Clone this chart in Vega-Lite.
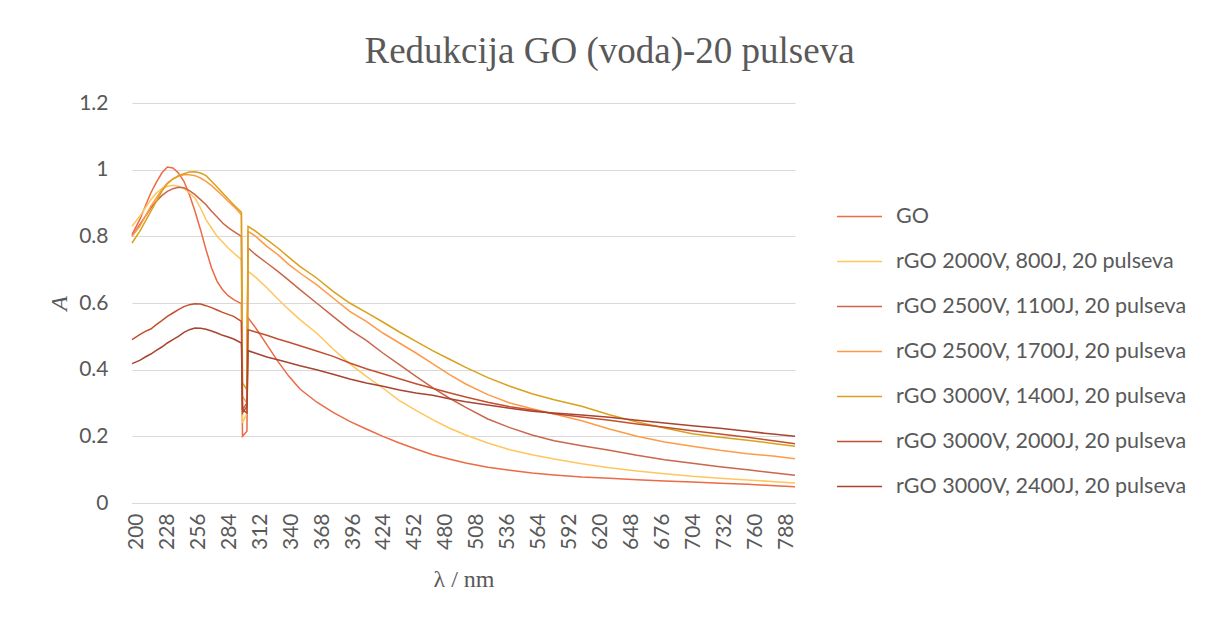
{
 "$schema": "https://vega.github.io/schema/vega-lite/v6.json",
 "width": 663, "height": 400,
 "autosize": {"type": "none"},
 "padding": {"left": 132, "top": 103, "right": 414, "bottom": 119},
 "background": "white",
 "title": {"text": "Redukcija GO (voda)-20 pulseva", "font": "Liberation Serif", "fontSize": 37, "fontWeight": "normal", "color": "#595959", "anchor": "middle", "dx": 146, "dy": 38, "offset": 30, "baseline": "alphabetic"},
 "data": {"values": [
{"s":"GO","x":196,"y":0.805},{"s":"GO","x":203,"y":0.85},{"s":"GO","x":208,"y":0.89},{"s":"GO","x":213,"y":0.93},{"s":"GO","x":218,"y":0.962},{"s":"GO","x":223,"y":0.99},{"s":"GO","x":228,"y":1.008},{"s":"GO","x":233,"y":1.005},{"s":"GO","x":238,"y":0.99},{"s":"GO","x":243,"y":0.965},{"s":"GO","x":248,"y":0.925},{"s":"GO","x":253,"y":0.875},{"s":"GO","x":258,"y":0.82},{"s":"GO","x":263,"y":0.76},{"s":"GO","x":268,"y":0.705},{"s":"GO","x":273,"y":0.665},{"s":"GO","x":278,"y":0.64},{"s":"GO","x":283,"y":0.622},{"s":"GO","x":288,"y":0.61},{"s":"GO","x":295,"y":0.598},{"s":"GO","x":296,"y":0.2},{"s":"GO","x":300,"y":0.215},{"s":"GO","x":301,"y":0.556},{"s":"GO","x":308,"y":0.525},{"s":"GO","x":318,"y":0.475},{"s":"GO","x":328,"y":0.425},{"s":"GO","x":338,"y":0.38},{"s":"GO","x":348,"y":0.342},{"s":"GO","x":363,"y":0.303},{"s":"GO","x":378,"y":0.272},{"s":"GO","x":393,"y":0.245},{"s":"GO","x":408,"y":0.222},{"s":"GO","x":423,"y":0.2},{"s":"GO","x":438,"y":0.18},{"s":"GO","x":453,"y":0.162},{"s":"GO","x":468,"y":0.145},{"s":"GO","x":483,"y":0.132},{"s":"GO","x":498,"y":0.12},{"s":"GO","x":518,"y":0.107},{"s":"GO","x":538,"y":0.098},{"s":"GO","x":558,"y":0.09},{"s":"GO","x":578,"y":0.084},{"s":"GO","x":603,"y":0.078},{"s":"GO","x":628,"y":0.074},{"s":"GO","x":653,"y":0.07},{"s":"GO","x":678,"y":0.066},{"s":"GO","x":703,"y":0.063},{"s":"GO","x":728,"y":0.059},{"s":"GO","x":753,"y":0.056},{"s":"GO","x":778,"y":0.052},{"s":"GO","x":796,"y":0.049},
{"s":"rGO 2000V, 800J, 20 pulseva","x":196,"y":0.83},{"s":"rGO 2000V, 800J, 20 pulseva","x":203,"y":0.86},{"s":"rGO 2000V, 800J, 20 pulseva","x":208,"y":0.885},{"s":"rGO 2000V, 800J, 20 pulseva","x":213,"y":0.91},{"s":"rGO 2000V, 800J, 20 pulseva","x":218,"y":0.93},{"s":"rGO 2000V, 800J, 20 pulseva","x":223,"y":0.943},{"s":"rGO 2000V, 800J, 20 pulseva","x":228,"y":0.95},{"s":"rGO 2000V, 800J, 20 pulseva","x":233,"y":0.953},{"s":"rGO 2000V, 800J, 20 pulseva","x":238,"y":0.95},{"s":"rGO 2000V, 800J, 20 pulseva","x":243,"y":0.943},{"s":"rGO 2000V, 800J, 20 pulseva","x":248,"y":0.93},{"s":"rGO 2000V, 800J, 20 pulseva","x":253,"y":0.915},{"s":"rGO 2000V, 800J, 20 pulseva","x":258,"y":0.885},{"s":"rGO 2000V, 800J, 20 pulseva","x":263,"y":0.85},{"s":"rGO 2000V, 800J, 20 pulseva","x":268,"y":0.825},{"s":"rGO 2000V, 800J, 20 pulseva","x":273,"y":0.8},{"s":"rGO 2000V, 800J, 20 pulseva","x":278,"y":0.783},{"s":"rGO 2000V, 800J, 20 pulseva","x":283,"y":0.765},{"s":"rGO 2000V, 800J, 20 pulseva","x":288,"y":0.75},{"s":"rGO 2000V, 800J, 20 pulseva","x":295,"y":0.73},{"s":"rGO 2000V, 800J, 20 pulseva","x":296,"y":0.24},{"s":"rGO 2000V, 800J, 20 pulseva","x":300,"y":0.27},{"s":"rGO 2000V, 800J, 20 pulseva","x":301,"y":0.695},{"s":"rGO 2000V, 800J, 20 pulseva","x":308,"y":0.677},{"s":"rGO 2000V, 800J, 20 pulseva","x":318,"y":0.646},{"s":"rGO 2000V, 800J, 20 pulseva","x":328,"y":0.612},{"s":"rGO 2000V, 800J, 20 pulseva","x":338,"y":0.58},{"s":"rGO 2000V, 800J, 20 pulseva","x":348,"y":0.55},{"s":"rGO 2000V, 800J, 20 pulseva","x":363,"y":0.51},{"s":"rGO 2000V, 800J, 20 pulseva","x":378,"y":0.462},{"s":"rGO 2000V, 800J, 20 pulseva","x":393,"y":0.418},{"s":"rGO 2000V, 800J, 20 pulseva","x":408,"y":0.38},{"s":"rGO 2000V, 800J, 20 pulseva","x":423,"y":0.345},{"s":"rGO 2000V, 800J, 20 pulseva","x":438,"y":0.307},{"s":"rGO 2000V, 800J, 20 pulseva","x":453,"y":0.278},{"s":"rGO 2000V, 800J, 20 pulseva","x":468,"y":0.25},{"s":"rGO 2000V, 800J, 20 pulseva","x":483,"y":0.225},{"s":"rGO 2000V, 800J, 20 pulseva","x":498,"y":0.204},{"s":"rGO 2000V, 800J, 20 pulseva","x":518,"y":0.18},{"s":"rGO 2000V, 800J, 20 pulseva","x":538,"y":0.16},{"s":"rGO 2000V, 800J, 20 pulseva","x":558,"y":0.145},{"s":"rGO 2000V, 800J, 20 pulseva","x":578,"y":0.132},{"s":"rGO 2000V, 800J, 20 pulseva","x":603,"y":0.118},{"s":"rGO 2000V, 800J, 20 pulseva","x":628,"y":0.106},{"s":"rGO 2000V, 800J, 20 pulseva","x":653,"y":0.096},{"s":"rGO 2000V, 800J, 20 pulseva","x":678,"y":0.088},{"s":"rGO 2000V, 800J, 20 pulseva","x":703,"y":0.08},{"s":"rGO 2000V, 800J, 20 pulseva","x":728,"y":0.074},{"s":"rGO 2000V, 800J, 20 pulseva","x":753,"y":0.069},{"s":"rGO 2000V, 800J, 20 pulseva","x":778,"y":0.064},{"s":"rGO 2000V, 800J, 20 pulseva","x":796,"y":0.06},
{"s":"rGO 2500V, 1100J, 20 pulseva","x":196,"y":0.8},{"s":"rGO 2500V, 1100J, 20 pulseva","x":203,"y":0.835},{"s":"rGO 2500V, 1100J, 20 pulseva","x":208,"y":0.86},{"s":"rGO 2500V, 1100J, 20 pulseva","x":213,"y":0.885},{"s":"rGO 2500V, 1100J, 20 pulseva","x":218,"y":0.905},{"s":"rGO 2500V, 1100J, 20 pulseva","x":223,"y":0.922},{"s":"rGO 2500V, 1100J, 20 pulseva","x":228,"y":0.935},{"s":"rGO 2500V, 1100J, 20 pulseva","x":233,"y":0.943},{"s":"rGO 2500V, 1100J, 20 pulseva","x":238,"y":0.947},{"s":"rGO 2500V, 1100J, 20 pulseva","x":243,"y":0.946},{"s":"rGO 2500V, 1100J, 20 pulseva","x":248,"y":0.937},{"s":"rGO 2500V, 1100J, 20 pulseva","x":253,"y":0.925},{"s":"rGO 2500V, 1100J, 20 pulseva","x":258,"y":0.91},{"s":"rGO 2500V, 1100J, 20 pulseva","x":263,"y":0.895},{"s":"rGO 2500V, 1100J, 20 pulseva","x":268,"y":0.875},{"s":"rGO 2500V, 1100J, 20 pulseva","x":273,"y":0.858},{"s":"rGO 2500V, 1100J, 20 pulseva","x":278,"y":0.84},{"s":"rGO 2500V, 1100J, 20 pulseva","x":283,"y":0.826},{"s":"rGO 2500V, 1100J, 20 pulseva","x":288,"y":0.815},{"s":"rGO 2500V, 1100J, 20 pulseva","x":295,"y":0.8},{"s":"rGO 2500V, 1100J, 20 pulseva","x":296,"y":0.28},{"s":"rGO 2500V, 1100J, 20 pulseva","x":300,"y":0.3},{"s":"rGO 2500V, 1100J, 20 pulseva","x":301,"y":0.765},{"s":"rGO 2500V, 1100J, 20 pulseva","x":308,"y":0.745},{"s":"rGO 2500V, 1100J, 20 pulseva","x":318,"y":0.72},{"s":"rGO 2500V, 1100J, 20 pulseva","x":328,"y":0.695},{"s":"rGO 2500V, 1100J, 20 pulseva","x":338,"y":0.668},{"s":"rGO 2500V, 1100J, 20 pulseva","x":348,"y":0.64},{"s":"rGO 2500V, 1100J, 20 pulseva","x":363,"y":0.6},{"s":"rGO 2500V, 1100J, 20 pulseva","x":378,"y":0.56},{"s":"rGO 2500V, 1100J, 20 pulseva","x":393,"y":0.52},{"s":"rGO 2500V, 1100J, 20 pulseva","x":408,"y":0.488},{"s":"rGO 2500V, 1100J, 20 pulseva","x":423,"y":0.45},{"s":"rGO 2500V, 1100J, 20 pulseva","x":438,"y":0.415},{"s":"rGO 2500V, 1100J, 20 pulseva","x":453,"y":0.38},{"s":"rGO 2500V, 1100J, 20 pulseva","x":468,"y":0.346},{"s":"rGO 2500V, 1100J, 20 pulseva","x":483,"y":0.315},{"s":"rGO 2500V, 1100J, 20 pulseva","x":498,"y":0.287},{"s":"rGO 2500V, 1100J, 20 pulseva","x":518,"y":0.252},{"s":"rGO 2500V, 1100J, 20 pulseva","x":538,"y":0.226},{"s":"rGO 2500V, 1100J, 20 pulseva","x":558,"y":0.204},{"s":"rGO 2500V, 1100J, 20 pulseva","x":578,"y":0.187},{"s":"rGO 2500V, 1100J, 20 pulseva","x":603,"y":0.172},{"s":"rGO 2500V, 1100J, 20 pulseva","x":628,"y":0.158},{"s":"rGO 2500V, 1100J, 20 pulseva","x":653,"y":0.143},{"s":"rGO 2500V, 1100J, 20 pulseva","x":678,"y":0.13},{"s":"rGO 2500V, 1100J, 20 pulseva","x":703,"y":0.119},{"s":"rGO 2500V, 1100J, 20 pulseva","x":728,"y":0.109},{"s":"rGO 2500V, 1100J, 20 pulseva","x":753,"y":0.1},{"s":"rGO 2500V, 1100J, 20 pulseva","x":778,"y":0.09},{"s":"rGO 2500V, 1100J, 20 pulseva","x":796,"y":0.083},
{"s":"rGO 2500V, 1700J, 20 pulseva","x":196,"y":0.8},{"s":"rGO 2500V, 1700J, 20 pulseva","x":203,"y":0.83},{"s":"rGO 2500V, 1700J, 20 pulseva","x":208,"y":0.86},{"s":"rGO 2500V, 1700J, 20 pulseva","x":213,"y":0.89},{"s":"rGO 2500V, 1700J, 20 pulseva","x":218,"y":0.915},{"s":"rGO 2500V, 1700J, 20 pulseva","x":223,"y":0.94},{"s":"rGO 2500V, 1700J, 20 pulseva","x":228,"y":0.96},{"s":"rGO 2500V, 1700J, 20 pulseva","x":233,"y":0.972},{"s":"rGO 2500V, 1700J, 20 pulseva","x":238,"y":0.98},{"s":"rGO 2500V, 1700J, 20 pulseva","x":243,"y":0.985},{"s":"rGO 2500V, 1700J, 20 pulseva","x":248,"y":0.985},{"s":"rGO 2500V, 1700J, 20 pulseva","x":253,"y":0.982},{"s":"rGO 2500V, 1700J, 20 pulseva","x":258,"y":0.975},{"s":"rGO 2500V, 1700J, 20 pulseva","x":263,"y":0.965},{"s":"rGO 2500V, 1700J, 20 pulseva","x":268,"y":0.952},{"s":"rGO 2500V, 1700J, 20 pulseva","x":273,"y":0.937},{"s":"rGO 2500V, 1700J, 20 pulseva","x":278,"y":0.922},{"s":"rGO 2500V, 1700J, 20 pulseva","x":283,"y":0.905},{"s":"rGO 2500V, 1700J, 20 pulseva","x":288,"y":0.89},{"s":"rGO 2500V, 1700J, 20 pulseva","x":295,"y":0.865},{"s":"rGO 2500V, 1700J, 20 pulseva","x":296,"y":0.32},{"s":"rGO 2500V, 1700J, 20 pulseva","x":300,"y":0.3},{"s":"rGO 2500V, 1700J, 20 pulseva","x":301,"y":0.815},{"s":"rGO 2500V, 1700J, 20 pulseva","x":308,"y":0.8},{"s":"rGO 2500V, 1700J, 20 pulseva","x":318,"y":0.77},{"s":"rGO 2500V, 1700J, 20 pulseva","x":328,"y":0.745},{"s":"rGO 2500V, 1700J, 20 pulseva","x":338,"y":0.715},{"s":"rGO 2500V, 1700J, 20 pulseva","x":348,"y":0.69},{"s":"rGO 2500V, 1700J, 20 pulseva","x":363,"y":0.655},{"s":"rGO 2500V, 1700J, 20 pulseva","x":378,"y":0.615},{"s":"rGO 2500V, 1700J, 20 pulseva","x":393,"y":0.575},{"s":"rGO 2500V, 1700J, 20 pulseva","x":408,"y":0.545},{"s":"rGO 2500V, 1700J, 20 pulseva","x":423,"y":0.51},{"s":"rGO 2500V, 1700J, 20 pulseva","x":438,"y":0.48},{"s":"rGO 2500V, 1700J, 20 pulseva","x":453,"y":0.45},{"s":"rGO 2500V, 1700J, 20 pulseva","x":468,"y":0.418},{"s":"rGO 2500V, 1700J, 20 pulseva","x":483,"y":0.386},{"s":"rGO 2500V, 1700J, 20 pulseva","x":498,"y":0.357},{"s":"rGO 2500V, 1700J, 20 pulseva","x":518,"y":0.325},{"s":"rGO 2500V, 1700J, 20 pulseva","x":538,"y":0.3},{"s":"rGO 2500V, 1700J, 20 pulseva","x":558,"y":0.283},{"s":"rGO 2500V, 1700J, 20 pulseva","x":578,"y":0.267},{"s":"rGO 2500V, 1700J, 20 pulseva","x":603,"y":0.247},{"s":"rGO 2500V, 1700J, 20 pulseva","x":628,"y":0.222},{"s":"rGO 2500V, 1700J, 20 pulseva","x":653,"y":0.2},{"s":"rGO 2500V, 1700J, 20 pulseva","x":678,"y":0.183},{"s":"rGO 2500V, 1700J, 20 pulseva","x":703,"y":0.17},{"s":"rGO 2500V, 1700J, 20 pulseva","x":728,"y":0.158},{"s":"rGO 2500V, 1700J, 20 pulseva","x":753,"y":0.148},{"s":"rGO 2500V, 1700J, 20 pulseva","x":778,"y":0.14},{"s":"rGO 2500V, 1700J, 20 pulseva","x":796,"y":0.133},
{"s":"rGO 3000V, 1400J, 20 pulseva","x":196,"y":0.78},{"s":"rGO 3000V, 1400J, 20 pulseva","x":203,"y":0.815},{"s":"rGO 3000V, 1400J, 20 pulseva","x":208,"y":0.845},{"s":"rGO 3000V, 1400J, 20 pulseva","x":213,"y":0.875},{"s":"rGO 3000V, 1400J, 20 pulseva","x":218,"y":0.905},{"s":"rGO 3000V, 1400J, 20 pulseva","x":223,"y":0.935},{"s":"rGO 3000V, 1400J, 20 pulseva","x":228,"y":0.958},{"s":"rGO 3000V, 1400J, 20 pulseva","x":233,"y":0.972},{"s":"rGO 3000V, 1400J, 20 pulseva","x":238,"y":0.982},{"s":"rGO 3000V, 1400J, 20 pulseva","x":243,"y":0.988},{"s":"rGO 3000V, 1400J, 20 pulseva","x":248,"y":0.993},{"s":"rGO 3000V, 1400J, 20 pulseva","x":253,"y":0.994},{"s":"rGO 3000V, 1400J, 20 pulseva","x":258,"y":0.99},{"s":"rGO 3000V, 1400J, 20 pulseva","x":263,"y":0.982},{"s":"rGO 3000V, 1400J, 20 pulseva","x":268,"y":0.965},{"s":"rGO 3000V, 1400J, 20 pulseva","x":273,"y":0.948},{"s":"rGO 3000V, 1400J, 20 pulseva","x":278,"y":0.93},{"s":"rGO 3000V, 1400J, 20 pulseva","x":283,"y":0.912},{"s":"rGO 3000V, 1400J, 20 pulseva","x":288,"y":0.895},{"s":"rGO 3000V, 1400J, 20 pulseva","x":295,"y":0.872},{"s":"rGO 3000V, 1400J, 20 pulseva","x":296,"y":0.36},{"s":"rGO 3000V, 1400J, 20 pulseva","x":300,"y":0.34},{"s":"rGO 3000V, 1400J, 20 pulseva","x":301,"y":0.83},{"s":"rGO 3000V, 1400J, 20 pulseva","x":308,"y":0.815},{"s":"rGO 3000V, 1400J, 20 pulseva","x":318,"y":0.79},{"s":"rGO 3000V, 1400J, 20 pulseva","x":328,"y":0.765},{"s":"rGO 3000V, 1400J, 20 pulseva","x":338,"y":0.737},{"s":"rGO 3000V, 1400J, 20 pulseva","x":348,"y":0.71},{"s":"rGO 3000V, 1400J, 20 pulseva","x":363,"y":0.675},{"s":"rGO 3000V, 1400J, 20 pulseva","x":378,"y":0.635},{"s":"rGO 3000V, 1400J, 20 pulseva","x":393,"y":0.6},{"s":"rGO 3000V, 1400J, 20 pulseva","x":408,"y":0.572},{"s":"rGO 3000V, 1400J, 20 pulseva","x":423,"y":0.543},{"s":"rGO 3000V, 1400J, 20 pulseva","x":438,"y":0.513},{"s":"rGO 3000V, 1400J, 20 pulseva","x":453,"y":0.485},{"s":"rGO 3000V, 1400J, 20 pulseva","x":468,"y":0.457},{"s":"rGO 3000V, 1400J, 20 pulseva","x":483,"y":0.432},{"s":"rGO 3000V, 1400J, 20 pulseva","x":498,"y":0.407},{"s":"rGO 3000V, 1400J, 20 pulseva","x":518,"y":0.376},{"s":"rGO 3000V, 1400J, 20 pulseva","x":538,"y":0.35},{"s":"rGO 3000V, 1400J, 20 pulseva","x":558,"y":0.328},{"s":"rGO 3000V, 1400J, 20 pulseva","x":578,"y":0.31},{"s":"rGO 3000V, 1400J, 20 pulseva","x":603,"y":0.29},{"s":"rGO 3000V, 1400J, 20 pulseva","x":628,"y":0.265},{"s":"rGO 3000V, 1400J, 20 pulseva","x":653,"y":0.243},{"s":"rGO 3000V, 1400J, 20 pulseva","x":678,"y":0.225},{"s":"rGO 3000V, 1400J, 20 pulseva","x":703,"y":0.208},{"s":"rGO 3000V, 1400J, 20 pulseva","x":728,"y":0.197},{"s":"rGO 3000V, 1400J, 20 pulseva","x":753,"y":0.188},{"s":"rGO 3000V, 1400J, 20 pulseva","x":778,"y":0.178},{"s":"rGO 3000V, 1400J, 20 pulseva","x":796,"y":0.17},
{"s":"rGO 3000V, 2000J, 20 pulseva","x":196,"y":0.49},{"s":"rGO 3000V, 2000J, 20 pulseva","x":203,"y":0.505},{"s":"rGO 3000V, 2000J, 20 pulseva","x":208,"y":0.515},{"s":"rGO 3000V, 2000J, 20 pulseva","x":213,"y":0.522},{"s":"rGO 3000V, 2000J, 20 pulseva","x":218,"y":0.535},{"s":"rGO 3000V, 2000J, 20 pulseva","x":223,"y":0.547},{"s":"rGO 3000V, 2000J, 20 pulseva","x":228,"y":0.56},{"s":"rGO 3000V, 2000J, 20 pulseva","x":233,"y":0.57},{"s":"rGO 3000V, 2000J, 20 pulseva","x":238,"y":0.58},{"s":"rGO 3000V, 2000J, 20 pulseva","x":243,"y":0.589},{"s":"rGO 3000V, 2000J, 20 pulseva","x":248,"y":0.595},{"s":"rGO 3000V, 2000J, 20 pulseva","x":253,"y":0.598},{"s":"rGO 3000V, 2000J, 20 pulseva","x":258,"y":0.597},{"s":"rGO 3000V, 2000J, 20 pulseva","x":263,"y":0.592},{"s":"rGO 3000V, 2000J, 20 pulseva","x":268,"y":0.586},{"s":"rGO 3000V, 2000J, 20 pulseva","x":273,"y":0.579},{"s":"rGO 3000V, 2000J, 20 pulseva","x":278,"y":0.572},{"s":"rGO 3000V, 2000J, 20 pulseva","x":283,"y":0.566},{"s":"rGO 3000V, 2000J, 20 pulseva","x":288,"y":0.56},{"s":"rGO 3000V, 2000J, 20 pulseva","x":295,"y":0.545},{"s":"rGO 3000V, 2000J, 20 pulseva","x":296,"y":0.27},{"s":"rGO 3000V, 2000J, 20 pulseva","x":300,"y":0.29},{"s":"rGO 3000V, 2000J, 20 pulseva","x":301,"y":0.52},{"s":"rGO 3000V, 2000J, 20 pulseva","x":308,"y":0.513},{"s":"rGO 3000V, 2000J, 20 pulseva","x":318,"y":0.503},{"s":"rGO 3000V, 2000J, 20 pulseva","x":328,"y":0.492},{"s":"rGO 3000V, 2000J, 20 pulseva","x":338,"y":0.482},{"s":"rGO 3000V, 2000J, 20 pulseva","x":348,"y":0.472},{"s":"rGO 3000V, 2000J, 20 pulseva","x":363,"y":0.456},{"s":"rGO 3000V, 2000J, 20 pulseva","x":378,"y":0.44},{"s":"rGO 3000V, 2000J, 20 pulseva","x":393,"y":0.42},{"s":"rGO 3000V, 2000J, 20 pulseva","x":408,"y":0.403},{"s":"rGO 3000V, 2000J, 20 pulseva","x":423,"y":0.388},{"s":"rGO 3000V, 2000J, 20 pulseva","x":438,"y":0.373},{"s":"rGO 3000V, 2000J, 20 pulseva","x":453,"y":0.358},{"s":"rGO 3000V, 2000J, 20 pulseva","x":468,"y":0.344},{"s":"rGO 3000V, 2000J, 20 pulseva","x":483,"y":0.331},{"s":"rGO 3000V, 2000J, 20 pulseva","x":498,"y":0.318},{"s":"rGO 3000V, 2000J, 20 pulseva","x":518,"y":0.302},{"s":"rGO 3000V, 2000J, 20 pulseva","x":538,"y":0.289},{"s":"rGO 3000V, 2000J, 20 pulseva","x":558,"y":0.279},{"s":"rGO 3000V, 2000J, 20 pulseva","x":578,"y":0.268},{"s":"rGO 3000V, 2000J, 20 pulseva","x":603,"y":0.258},{"s":"rGO 3000V, 2000J, 20 pulseva","x":628,"y":0.248},{"s":"rGO 3000V, 2000J, 20 pulseva","x":653,"y":0.237},{"s":"rGO 3000V, 2000J, 20 pulseva","x":678,"y":0.227},{"s":"rGO 3000V, 2000J, 20 pulseva","x":703,"y":0.217},{"s":"rGO 3000V, 2000J, 20 pulseva","x":728,"y":0.207},{"s":"rGO 3000V, 2000J, 20 pulseva","x":753,"y":0.197},{"s":"rGO 3000V, 2000J, 20 pulseva","x":778,"y":0.186},{"s":"rGO 3000V, 2000J, 20 pulseva","x":796,"y":0.178},
{"s":"rGO 3000V, 2400J, 20 pulseva","x":196,"y":0.418},{"s":"rGO 3000V, 2400J, 20 pulseva","x":203,"y":0.428},{"s":"rGO 3000V, 2400J, 20 pulseva","x":208,"y":0.438},{"s":"rGO 3000V, 2400J, 20 pulseva","x":213,"y":0.447},{"s":"rGO 3000V, 2400J, 20 pulseva","x":218,"y":0.458},{"s":"rGO 3000V, 2400J, 20 pulseva","x":223,"y":0.468},{"s":"rGO 3000V, 2400J, 20 pulseva","x":228,"y":0.48},{"s":"rGO 3000V, 2400J, 20 pulseva","x":233,"y":0.49},{"s":"rGO 3000V, 2400J, 20 pulseva","x":238,"y":0.5},{"s":"rGO 3000V, 2400J, 20 pulseva","x":243,"y":0.512},{"s":"rGO 3000V, 2400J, 20 pulseva","x":248,"y":0.52},{"s":"rGO 3000V, 2400J, 20 pulseva","x":253,"y":0.525},{"s":"rGO 3000V, 2400J, 20 pulseva","x":258,"y":0.524},{"s":"rGO 3000V, 2400J, 20 pulseva","x":263,"y":0.521},{"s":"rGO 3000V, 2400J, 20 pulseva","x":268,"y":0.516},{"s":"rGO 3000V, 2400J, 20 pulseva","x":273,"y":0.51},{"s":"rGO 3000V, 2400J, 20 pulseva","x":278,"y":0.503},{"s":"rGO 3000V, 2400J, 20 pulseva","x":283,"y":0.498},{"s":"rGO 3000V, 2400J, 20 pulseva","x":288,"y":0.492},{"s":"rGO 3000V, 2400J, 20 pulseva","x":295,"y":0.48},{"s":"rGO 3000V, 2400J, 20 pulseva","x":296,"y":0.28},{"s":"rGO 3000V, 2400J, 20 pulseva","x":300,"y":0.27},{"s":"rGO 3000V, 2400J, 20 pulseva","x":301,"y":0.457},{"s":"rGO 3000V, 2400J, 20 pulseva","x":308,"y":0.449},{"s":"rGO 3000V, 2400J, 20 pulseva","x":318,"y":0.438},{"s":"rGO 3000V, 2400J, 20 pulseva","x":328,"y":0.43},{"s":"rGO 3000V, 2400J, 20 pulseva","x":338,"y":0.421},{"s":"rGO 3000V, 2400J, 20 pulseva","x":348,"y":0.412},{"s":"rGO 3000V, 2400J, 20 pulseva","x":363,"y":0.4},{"s":"rGO 3000V, 2400J, 20 pulseva","x":378,"y":0.386},{"s":"rGO 3000V, 2400J, 20 pulseva","x":393,"y":0.372},{"s":"rGO 3000V, 2400J, 20 pulseva","x":408,"y":0.36},{"s":"rGO 3000V, 2400J, 20 pulseva","x":423,"y":0.35},{"s":"rGO 3000V, 2400J, 20 pulseva","x":438,"y":0.339},{"s":"rGO 3000V, 2400J, 20 pulseva","x":453,"y":0.33},{"s":"rGO 3000V, 2400J, 20 pulseva","x":468,"y":0.323},{"s":"rGO 3000V, 2400J, 20 pulseva","x":483,"y":0.313},{"s":"rGO 3000V, 2400J, 20 pulseva","x":498,"y":0.304},{"s":"rGO 3000V, 2400J, 20 pulseva","x":518,"y":0.294},{"s":"rGO 3000V, 2400J, 20 pulseva","x":538,"y":0.284},{"s":"rGO 3000V, 2400J, 20 pulseva","x":558,"y":0.275},{"s":"rGO 3000V, 2400J, 20 pulseva","x":578,"y":0.27},{"s":"rGO 3000V, 2400J, 20 pulseva","x":603,"y":0.264},{"s":"rGO 3000V, 2400J, 20 pulseva","x":628,"y":0.257},{"s":"rGO 3000V, 2400J, 20 pulseva","x":653,"y":0.248},{"s":"rGO 3000V, 2400J, 20 pulseva","x":678,"y":0.24},{"s":"rGO 3000V, 2400J, 20 pulseva","x":703,"y":0.232},{"s":"rGO 3000V, 2400J, 20 pulseva","x":728,"y":0.224},{"s":"rGO 3000V, 2400J, 20 pulseva","x":753,"y":0.215},{"s":"rGO 3000V, 2400J, 20 pulseva","x":778,"y":0.206},{"s":"rGO 3000V, 2400J, 20 pulseva","x":796,"y":0.2}
 ]},
 "mark": {"type": "line", "strokeWidth": 1.5},
 "encoding": {
  "x": {"field": "x", "type": "quantitative",
   "scale": {"domain": [196, 796], "nice": false, "zero": false},
   "axis": {"values": [200,228,256,284,312,340,368,396,424,452,480,508,536,564,592,620,648,676,704,732,760,788],
    "labelAngle": 270, "labelFont": "Lato", "labelFontSize": 21, "labelColor": "#595959", "labelPadding": 10,
    "ticks": false, "grid": false, "domain": true, "domainColor": "#D9D9D9", "domainWidth": 1,
    "labelOverlap": false, "labelFlush": false,
    "title": "λ / nm", "titleFont": "Liberation Serif", "titleFontSize": 24, "titleFontWeight": "normal", "titleColor": "#595959", "titlePadding": 18}},
  "y": {"field": "y", "type": "quantitative",
   "scale": {"domain": [0, 1.2], "nice": false},
   "axis": {"values": [0, 0.2, 0.4, 0.6, 0.8, 1, 1.2], "format": ".1~f",
    "labelFont": "Lato", "labelFontSize": 21, "labelColor": "#595959", "labelPadding": 24,
    "ticks": false, "domain": false, "grid": true, "gridColor": "#D9D9D9", "gridWidth": 1,
    "title": "A", "titleFont": "Liberation Serif", "titleFontStyle": "italic", "titleFontSize": 24, "titleFontWeight": "normal", "titleColor": "#595959", "titlePadding": 7}},
  "color": {"field": "s", "type": "nominal",
   "scale": {"domain": ["GO", "rGO 2000V, 800J, 20 pulseva", "rGO 2500V, 1100J, 20 pulseva", "rGO 2500V, 1700J, 20 pulseva", "rGO 3000V, 1400J, 20 pulseva", "rGO 3000V, 2000J, 20 pulseva", "rGO 3000V, 2400J, 20 pulseva"],
    "range": ["#EC6A44", "#FFC65C", "#C9674B", "#FF9A48", "#D9A11A", "#C34F2E", "#A84431"]},
   "legend": {"orient": "none", "legendX": 704, "legendY": 90, "title": null, "symbolType": "stroke", "symbolSize": 2025, "symbolStrokeWidth": 1.5,
    "labelFont": "Lato", "labelFontSize": 21.5, "labelColor": "#595959", "labelOffset": 13, "labelLimit": 400, "rowPadding": 11}}
 },
 "config": {"view": {"stroke": null}}
}
